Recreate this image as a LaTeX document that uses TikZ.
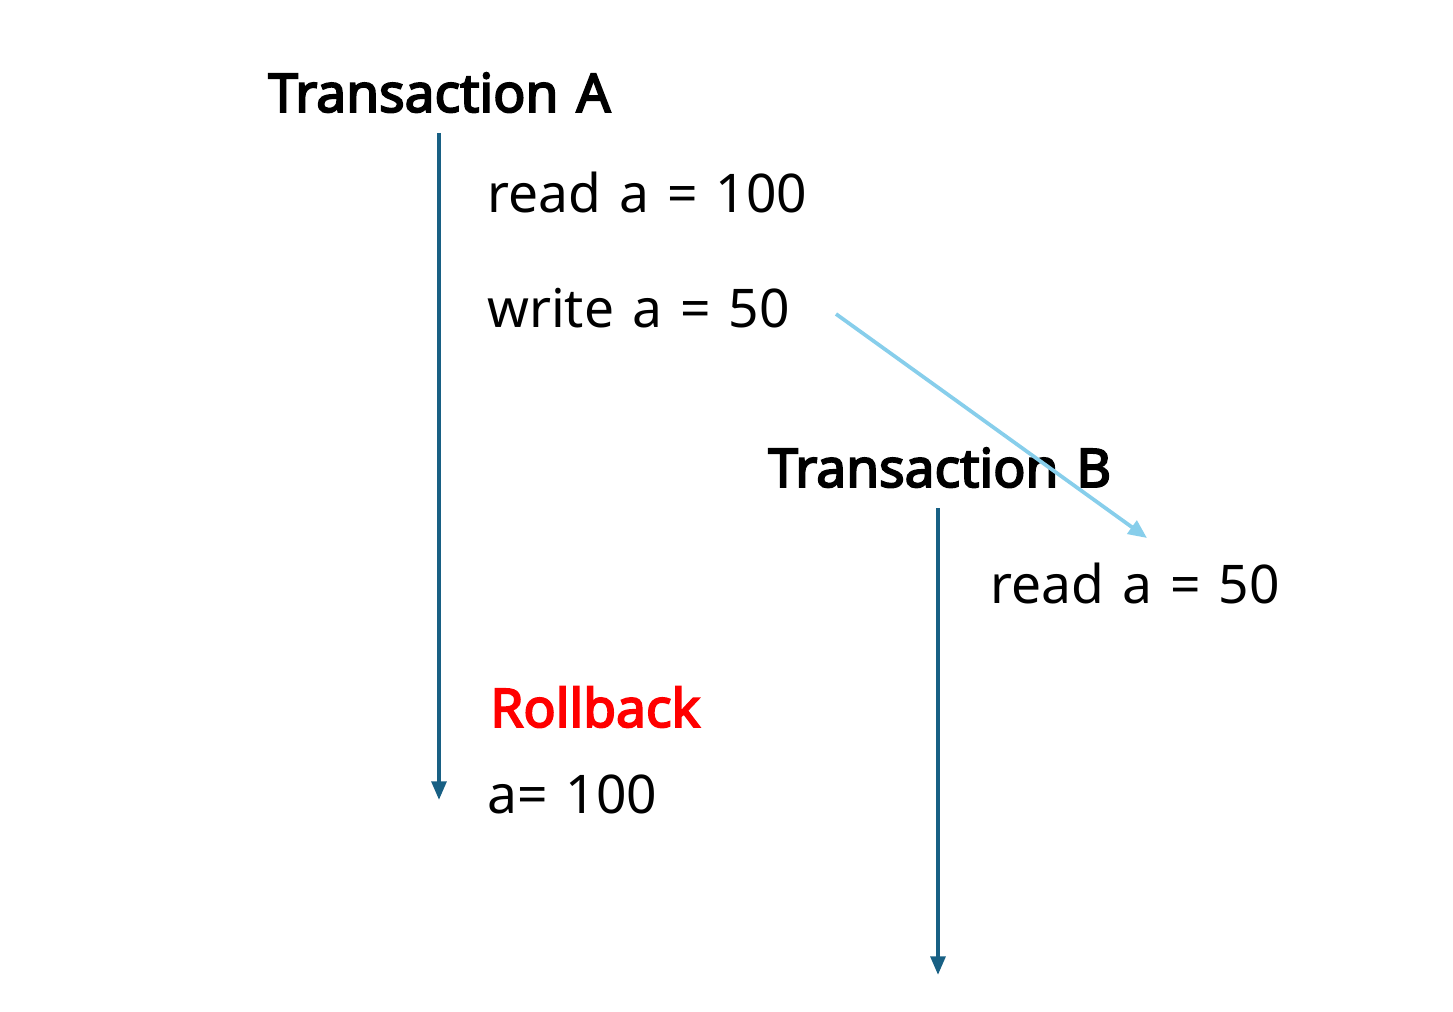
\documentclass[tikz,border=0pt]{standalone}
\usepackage{fontspec}
\setmainfont{Noto Sans}[WordSpace=1.3]
\newfontfamily\titlefont{Noto Sans}[FakeBold=3.5,WordSpace=1.3]
\usetikzlibrary{arrows.meta}
\definecolor{lineblue}{RGB}{24,96,132}
\definecolor{lightblue}{RGB}{135,206,235}
\definecolor{rbred}{RGB}{255,0,0}
\begin{document}
\begin{tikzpicture}[x=0.75pt,y=-0.75pt,
  lbl/.style={anchor=base west,inner sep=0pt,font=\fontsize{40}{48}\selectfont},
  ttl/.style={anchor=base west,inner sep=0pt,font=\titlefont\fontsize{40}{48}\selectfont},
  timeline/.style={draw=lineblue,line width=3pt,-{Triangle[length=14pt,width=11pt]}},
  flow/.style={draw=lightblue,line width=2.8pt,-{Triangle[length=14pt,width=12pt]}}]
\useasboundingbox (0,0) rectangle (1453,1012);
\node[ttl] (ta) at (268,112) {Transaction A};
\node[lbl] (ra) at (487,213) {read a = 100};
\node[lbl] (wa) at (487,328) {write a = 50};
\node[ttl] (tb) at (768,487) {Transaction B};
\node[lbl] (rb) at (990,603) {read a = 50};
\node[ttl,text=rbred] (rl) at (490,727) {Rollback};
\node[lbl] (av) at (487,813) {a= 100};
\coordinate (a1) at (439,133);
\coordinate (a2) at (439,800);
\coordinate (b1) at (938,508);
\coordinate (b2) at (938,975);
\coordinate (c1) at (836,314);
\coordinate (c2) at (1147,538);
\draw[timeline] (a1) -- (a2);
\draw[timeline] (b1) -- (b2);
\draw[flow] (c1) -- (c2);
\end{tikzpicture}
\end{document}
